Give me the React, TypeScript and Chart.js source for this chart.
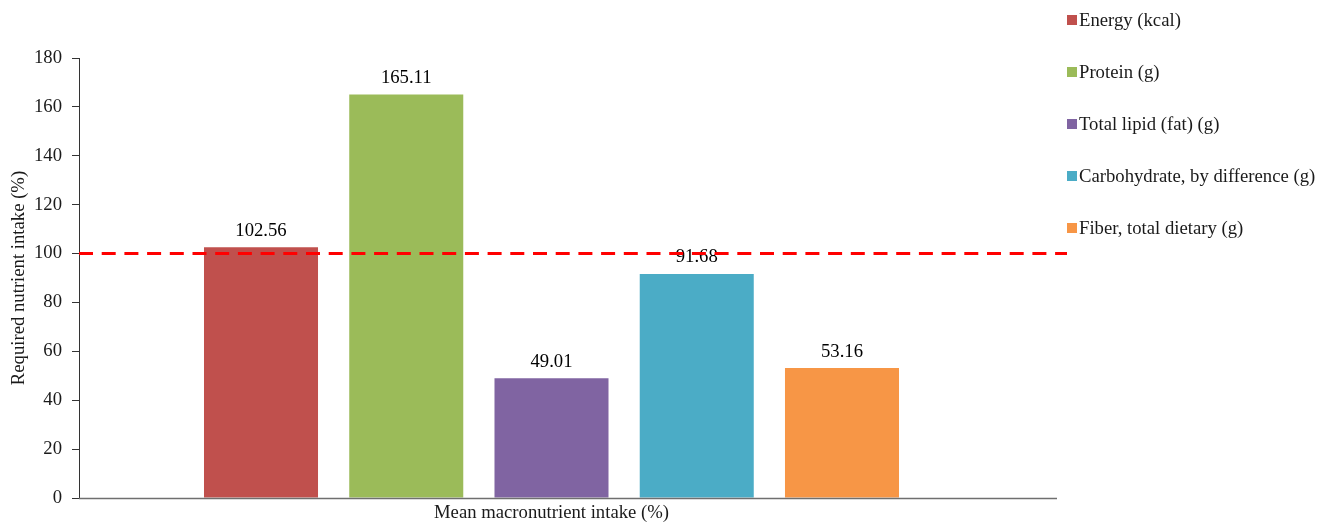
import React, { useEffect, useRef } from "react";
import { Chart, registerables } from "chart.js";

Chart.register(...registerables);

const categories = ["Mean macronutrient intake (%)"];
const seriesNames = [
  "Energy (kcal)",
  "Protein (g)",
  "Total lipid (fat) (g)",
  "Carbohydrate, by difference (g)",
  "Fiber, total dietary (g)",
];
const seriesValues = [102.56, 165.11, 49.01, 91.68, 53.16];
const seriesColors = ["#C0504D", "#9BBB59", "#8064A2", "#4BACC6", "#F79646"];
const referenceLine = 100;
const yMin = 0;
const yMax = 180;
const yStep = 20;
const yTitle = "Required nutrient intake (%)";

const FONT = '"Liberation Serif", "Times New Roman", serif';
const FS = 18.7;

const overlayPlugin = {
  id: "overlay",
  afterDatasetsDraw(chart: any) {
    const { ctx, chartArea } = chart;
    const y = chart.scales.y;
    // value labels
    ctx.save();
    ctx.font = `${FS}px ${FONT}`;
    ctx.fillStyle = "#000";
    ctx.textAlign = "center";
    ctx.textBaseline = "bottom";
    chart.data.datasets.forEach((ds: any, i: number) => {
      const meta = chart.getDatasetMeta(i);
      meta.data.forEach((bar: any, j: number) => {
        const v = ds.data[j];
        ctx.fillText(v.toFixed(2), bar.x, bar.y - 7);
      });
    });
    ctx.restore();

    // x axis line (extended)
    ctx.save();
    ctx.strokeStyle = "#6f6f6f";
    ctx.lineWidth = 1.5;
    ctx.beginPath();
    ctx.moveTo(chartArea.left, chartArea.bottom + 0.5);
    ctx.lineTo(chartArea.right + 33, chartArea.bottom + 0.5);
    ctx.stroke();
    ctx.restore();

    // dashed reference line
    const py = y.getPixelForValue(referenceLine);
    ctx.save();
    ctx.strokeStyle = "#FF0000";
    ctx.lineWidth = 3;
    ctx.setLineDash([14, 8.7]);
    ctx.beginPath();
    ctx.moveTo(chartArea.left, py);
    ctx.lineTo(chartArea.right + 43, py);
    ctx.stroke();
    ctx.restore();
  },
  afterDraw(chart: any) {
    const { ctx, chartArea } = chart;
    const left = chartArea.right + 43;
    const top = 20;
    const gap = 52;
    ctx.save();
    ctx.font = `${FS}px ${FONT}`;
    ctx.textBaseline = "middle";
    ctx.textAlign = "left";
    chart.data.datasets.forEach((ds: any, i: number) => {
      const cy = top + i * gap;
      ctx.fillStyle = ds.backgroundColor;
      ctx.fillRect(left, cy - 5, 10, 10);
      ctx.fillStyle = "#1a1a1a";
      ctx.fillText(ds.label, left + 12, cy + 1);
    });
    ctx.restore();
  },
};

export default function App() {
  const ref = useRef<HTMLCanvasElement | null>(null);
  useEffect(() => {
    if (!ref.current) return;
    const chart = new Chart(ref.current, {
      type: "bar",
      data: {
        labels: categories,
        datasets: seriesNames.map((name, i) => ({
          label: name,
          data: [seriesValues[i]],
          backgroundColor: seriesColors[i],
          borderWidth: 0,
          categoryPercentage: 0.7685,
          barPercentage: 0.785,
        })),
      },
      options: {
        animation: false,
        responsive: false,
        devicePixelRatio: 1,
        layout: { padding: { top: 58, right: 309, left: 0, bottom: 0 } },
        plugins: {
          legend: { display: false },
          tooltip: { enabled: false },
        },
        scales: {
          x: {
            grid: { display: false, drawTicks: false },
            border: { display: false },
            ticks: {
              color: "#1a1a1a",
              font: { family: FONT, size: FS },
              padding: 4,
            },
            afterFit: (s: any) => {
              s.height = 24;
            },
          },
          y: {
            min: yMin,
            max: yMax,
            ticks: {
              stepSize: yStep,
              color: "#1a1a1a",
              font: { family: FONT, size: FS },
              padding: 10,
            },
            grid: {
              drawOnChartArea: false,
              drawTicks: true,
              tickLength: 7,
              color: "#333",
            },
            border: { display: true, color: "#333", width: 1 },
            title: {
              display: true,
              text: yTitle,
              color: "#1a1a1a",
              font: { family: FONT, size: FS },
              padding: { top: 8, bottom: 0 },
            },
            afterFit: (s: any) => {
              s.width = 79;
            },
          },
        },
      },
      plugins: [overlayPlugin],
    });
    return () => chart.destroy();
  }, []);
  return (
    <div style={{ position: "fixed", left: 0, top: 0, width: 1333, height: 522, background: "#fff" }}>
      <canvas ref={ref} width={1333} height={522} style={{ display: "block" }} />
    </div>
  );
}
